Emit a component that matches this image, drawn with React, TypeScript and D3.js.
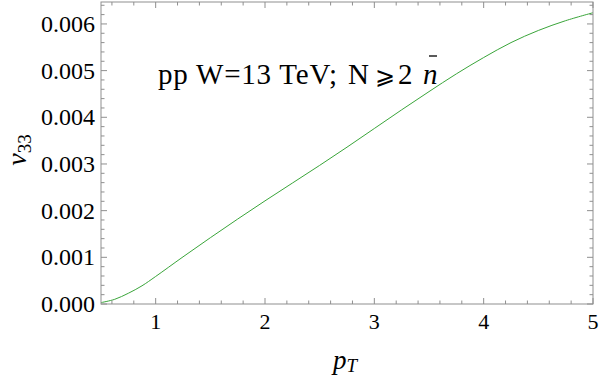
import React from 'react';
import * as d3 from 'd3';

const ptValues = [0.5, 0.625, 0.75, 0.875, 1.0, 1.25, 1.5, 1.75, 2.0, 2.25, 2.5, 2.75, 3.0, 3.25, 3.5, 3.75, 4.0, 4.25, 4.5, 4.75, 5.0];
const v33Values = [0.00003, 0.00010, 0.00023, 0.00039, 0.00059, 0.00101, 0.00142, 0.00182, 0.00221, 0.00259, 0.00297, 0.00336, 0.00376, 0.00416, 0.00455, 0.00493, 0.00528, 0.00560, 0.00586, 0.00607, 0.00624];
const xTicks = [1, 2, 3, 4, 5];
const xTickLabels = ['1', '2', '3', '4', '5'];
const yTicks = [0, 0.001, 0.002, 0.003, 0.004, 0.005, 0.006];
const yTickLabels = ['0.000', '0.001', '0.002', '0.003', '0.004', '0.005', '0.006'];
const annotationParts = ['pp W=13 TeV;', 'N', '\u2A7E', '2', 'n'];

const W = 600, H = 375;
const L = 101, R = 593, T = 2, B = 304;
const FONT = "'Liberation Serif', 'Times New Roman', Times, serif";
const FRAME = '#8f8f8f';
const GREEN = '#3aa53a';

export default function App() {
  const x = d3.scaleLinear().domain([0.5, 5]).range([L, R]);
  const y = d3.scaleLinear().domain([0, 0.00647]).range([B, T]);
  const data = ptValues.map((p, i) => [p, v33Values[i]] as [number, number]);
  const line = d3.line<[number, number]>().x(d => x(d[0])).y(d => y(d[1])).curve(d3.curveCatmullRom.alpha(0.5));

  const xMinor = d3.range(0.6, 5.001, 0.2).filter(v => Math.abs(v - Math.round(v)) > 0.01);
  const yMinor = d3.range(0.0002, 0.00647, 0.0002).filter(v => Math.abs(v * 1000 - Math.round(v * 1000)) > 0.01);
  const maj = 6, mnr = 3.5;
  const partX = [158, 348, 375, 398, 423];
  const ts = { fontFamily: FONT };

  return (
    <svg width={W} height={H} style={{ position: 'absolute', left: 0, top: 0, background: '#fff', fontFamily: FONT }}>
      <rect x={0} y={0} width={W} height={H} fill="#fff" />
      <path d={line(data) || ''} fill="none" stroke={GREEN} strokeWidth={1} />
      <rect x={L} y={T} width={R - L} height={B - T} fill="none" stroke={FRAME} strokeWidth={1} />
      {xTicks.map(v => (
        <g key={'xm' + v}>
          <line x1={x(v)} x2={x(v)} y1={B} y2={B - maj} stroke={FRAME} />
          <line x1={x(v)} x2={x(v)} y1={T} y2={T + maj} stroke={FRAME} />
        </g>
      ))}
      {xMinor.map((v, i) => (
        <g key={'xn' + i}>
          <line x1={x(v)} x2={x(v)} y1={B} y2={B - mnr} stroke={FRAME} />
          <line x1={x(v)} x2={x(v)} y1={T} y2={T + mnr} stroke={FRAME} />
        </g>
      ))}
      {yTicks.map(v => (
        <g key={'ym' + v}>
          <line x1={L} x2={L + maj} y1={y(v)} y2={y(v)} stroke={FRAME} />
          <line x1={R} x2={R - maj} y1={y(v)} y2={y(v)} stroke={FRAME} />
        </g>
      ))}
      {yMinor.map((v, i) => (
        <g key={'yn' + i}>
          <line x1={L} x2={L + mnr} y1={y(v)} y2={y(v)} stroke={FRAME} />
          <line x1={R} x2={R - mnr} y1={y(v)} y2={y(v)} stroke={FRAME} />
        </g>
      ))}
      {xTicks.map((v, i) => (
        <text key={'xl' + v} x={x(v)} y={329} textAnchor="middle" fontSize={22} style={ts} fill="#000">{xTickLabels[i]}</text>
      ))}
      {yTicks.map((v, i) => (
        <text key={'yl' + v} x={95} y={y(v) + 8} textAnchor="end" fontSize={24} style={ts} fill="#000">{yTickLabels[i]}</text>
      ))}
      <text x={partX[0]} y={84} fontSize={29} style={ts} fill="#000" textLength={179} lengthAdjust="spacing">{annotationParts[0]}</text>
      <text y={84} fontSize={29} style={ts} fill="#000">
        <tspan x={partX[1]}>{annotationParts[1]}</tspan>
        <tspan x={partX[2]} fontSize={24}>{annotationParts[2]}</tspan>
        <tspan x={partX[3]}>{annotationParts[3]}</tspan>
        <tspan x={partX[4]} fontStyle="italic">{annotationParts[4]}</tspan>
      </text>
      <line x1={429} x2={437} y1={56} y2={56} stroke="#000" strokeWidth={1.3} />
      <text transform="translate(26,150) rotate(-90)" textAnchor="middle" fontSize={28} style={ts} fill="#000">
        <tspan fontStyle="italic">v</tspan><tspan fontSize={19} dy={5}>33</tspan>
      </text>
      <text x={345} y={369} textAnchor="middle" fontSize={27} style={ts} fill="#000">
        <tspan fontStyle="italic">p</tspan><tspan fontStyle="italic" fontSize={19} dy={3}>T</tspan>
      </text>
    </svg>
  );
}
